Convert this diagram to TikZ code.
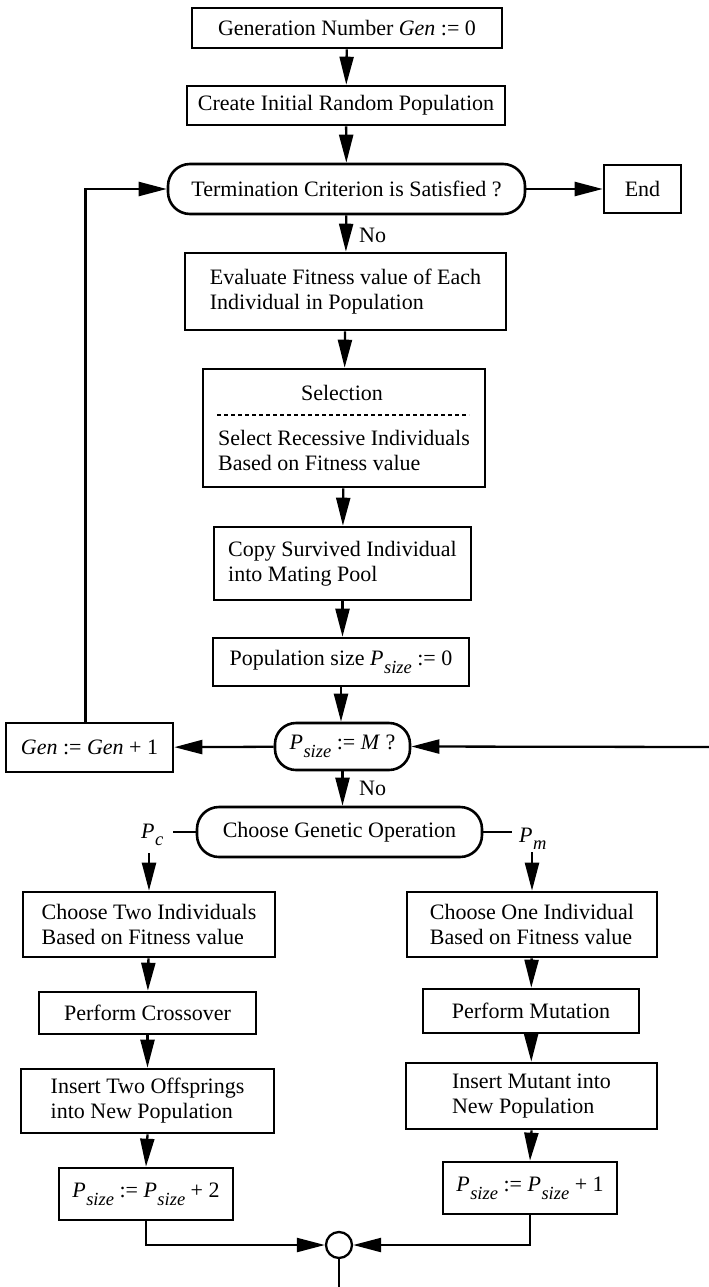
\documentclass[tikz,border=0pt]{standalone}
\usepackage{fontspec}
\setmainfont{Liberation Serif}
\usetikzlibrary{arrows.meta}
\newcommand\Pv[1]{\textit{P}\kern0.5pt\raisebox{-0.36em}{\fontsize{18.5}{18.5}\selectfont\textit{#1}}}
\begin{document}
\begin{tikzpicture}[x=1pt,y=-1pt,
  every node/.style={font=\fontsize{22}{25}\selectfont},
  box/.style={draw, line width=2.6pt, inner sep=0pt, align=left},
  term/.style={box, rounded corners=22pt, align=center},
  arr/.style={line width=2.3pt, -{Triangle[length=28pt,width=14pt]}},
  ln/.style={line width=2.3pt},
  lbl/.style={inner sep=0pt}]
\useasboundingbox (0,0) rectangle (709,1287);
% main column
\node[box, minimum width=310pt, minimum height=40pt] (b1) at (347,28) {Generation Number \textit{Gen} := 0};
\node[box, minimum width=318pt, minimum height=39pt] (b2) at (346,105.5) {Create Initial Random Population};
\node[term, minimum width=357pt, minimum height=50pt] (term) at (346.5,189) {Termination Criterion is Satisfied ?};
\node[box, minimum width=77pt, minimum height=48pt] (end) at (642.5,189) {End};
\node[box, minimum width=321pt, minimum height=77pt] (eval) at (345.5,291.5) {Evaluate Fitness value of Each\\Individual in Population};
\node[box, minimum width=282pt, minimum height=118pt] (sel) at (344,428) {};
\node[lbl] (selh) at (342,393) {Selection};
\node[lbl, align=left] (selb) at (344,450) {Select Recessive Individuals\\Based on Fitness value};
\coordinate (sd1) at (217,415);
\coordinate (sd2) at (469,415);
\draw[line width=2.2pt, dash pattern=on 4pt off 3pt] (sd1) -- (sd2);
\node[box, minimum width=257pt, minimum height=73pt] (copy) at (342.5,563.5) {Copy Survived Individual\\into Mating Pool};
\node[box, minimum width=256pt, minimum height=48pt] (pop) at (341,662) {Population size \Pv{size} := 0};
\node[term, minimum width=135pt, minimum height=47pt, rounded corners=21pt] (psz) at (342.5,746.5) {\Pv{size} := \textit{M} ?};
\node[box, minimum width=167pt, minimum height=49pt] (gen) at (89.5,747.5) {\textit{Gen} := \textit{Gen} + 1};
\node[term, minimum width=285pt, minimum height=50pt] (cho) at (339.5,832) {Choose Genetic Operation};
% left branch
\node[box, minimum width=252pt, minimum height=65pt] (c2) at (149,924.5) {Choose Two Individuals\\Based on Fitness value};
\node[box, minimum width=217pt, minimum height=42pt] (cross) at (147.5,1013) {Perform Crossover};
\node[box, minimum width=253pt, minimum height=64pt] (ins2) at (147.5,1101) {Insert Two Offsprings\\into New Population};
\node[box, minimum width=174pt, minimum height=52pt] (ps2) at (146,1194) {\Pv{size} := \Pv{size} + 2};
% right branch
\node[box, minimum width=250pt, minimum height=65pt] (c1) at (532,924.5) {Choose One Individual\\Based on Fitness value};
\node[box, minimum width=216pt, minimum height=44pt] (mut) at (531,1011) {Perform Mutation};
\node[box, minimum width=251pt, minimum height=66pt] (ins1) at (531.5,1096) {Insert Mutant into\\New Population};
\node[box, minimum width=174pt, minimum height=52pt] (ps1) at (530,1188) {\Pv{size} := \Pv{size} + 1};
\node[draw, circle, line width=2.3pt, minimum size=26pt, inner sep=0pt] (circ) at (339,1245) {};
% labels
\node[lbl, anchor=west] (no1) at (359,235) {No};
\node[lbl, anchor=west] (no2) at (359,788) {No};
\node[lbl, anchor=base west] (pc) at (141,838) {\Pv{c}};
\node[lbl, anchor=base west] (pm) at (519,842) {\Pv{m}};
% coordinates
\coordinate (pcl) at (173,832);
\coordinate (pml) at (512,832);
\coordinate (pcs) at (149,853);
\coordinate (pms) at (532,852);
\coordinate (redge) at (709,747);
\coordinate (bot) at (339,1287);
% connectors
\draw[arr] (b1) -- (b2);
\draw[arr] (b2) -- (term);
\draw[arr] (term) -- (end);
\draw[arr] (term) -- (eval);
\draw[arr] (eval) -- (sel);
\draw[arr] (sel) -- (copy);
\draw[arr] (copy.south) -- (copy.south |- pop.north);
\draw[arr] (pop.south) -- (pop.south |- psz.north);
\draw[arr] (psz) -- (gen);
\draw[arr] ([xshift=-4pt]gen.north) |- (term.west);
\draw[arr] (redge) -- (psz.east);
\draw[arr] (psz.south) -- (psz.south |- cho.north);
\draw[ln] (cho.west) -- (pcl);
\draw[ln] (cho.east) -- (pml);
\draw[arr] (pcs) -- (c2.north);
\draw[arr] (pms) -- (c1.north);
\draw[arr] (c2) -- (cross);
\draw[arr] (cross) -- (ins2);
\draw[arr] (ins2.south) -- (ps2.north);
\draw[arr] (c1) -- (mut);
\draw[arr] (mut) -- (ins1);
\draw[arr] (ins1.south) -- (ps1.north);
\draw[arr] (ps2.south) |- (circ.west);
\draw[arr] (ps1.south) |- (circ.east);
\draw[ln] (circ.south) -- (bot);
\end{tikzpicture}
\end{document}
